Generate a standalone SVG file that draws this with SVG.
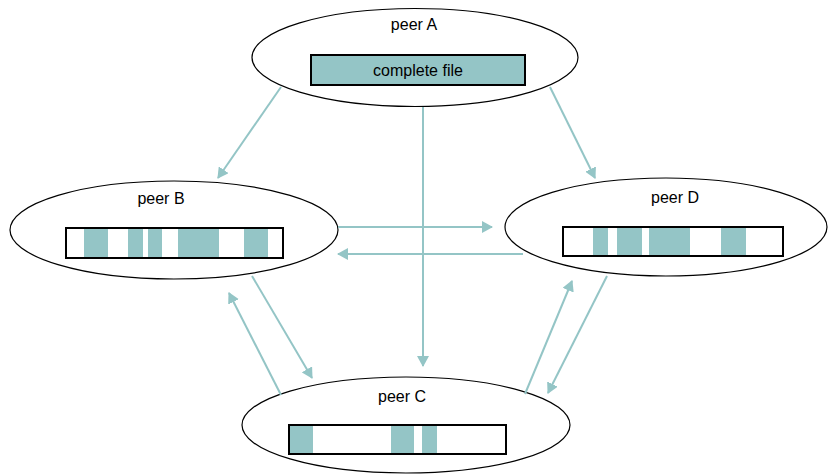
<svg xmlns="http://www.w3.org/2000/svg" width="828" height="475" viewBox="0 0 828 475">
<style>
.peer{fill:#fff;stroke:#000;stroke-width:1.2}
.bar{fill:#fff;stroke:#000;stroke-width:2}
.seg{fill:#94c5c6}
.lbl{font-family:"Liberation Sans",Arial,sans-serif;font-size:16px;fill:#000;text-anchor:middle}
.con{stroke:#94c5c6;stroke-width:2;fill:none;marker-end:url(#ah)}
</style>
<defs>
<marker id="ah" markerWidth="6" markerHeight="6" refX="5" refY="3" orient="auto" markerUnits="strokeWidth">
<path d="M0,0 L5.5,3 L0,6 z" fill="#94c5c6"/>
</marker>
</defs>
<rect width="828" height="475" fill="#fff"/>
<g id="peerA">
<ellipse class="peer" cx="415" cy="57.5" rx="163" ry="49"/>
<text class="lbl" x="414" y="30">peer A</text>
<rect x="311" y="55" width="214" height="30" fill="#94c5c6" stroke="#000" stroke-width="2"/>
<text class="lbl" x="418" y="76">complete file</text>
</g>
<g id="peerB">
<ellipse class="peer" cx="174" cy="230" rx="164" ry="49"/>
<text class="lbl" x="161" y="204">peer B</text>
<rect class="bar" x="66" y="228" width="217" height="30"/>
<rect class="seg" x="84" y="229" width="24" height="28"/>
<rect class="seg" x="128" y="229" width="15" height="28"/>
<rect class="seg" x="148" y="229" width="14" height="28"/>
<rect class="seg" x="178" y="229" width="41" height="28"/>
<rect class="seg" x="244" y="229" width="24" height="28"/>
<rect x="66" y="228" width="217" height="30" fill="none" stroke="#000" stroke-width="2"/>
</g>
<g id="peerD">
<ellipse class="peer" cx="666" cy="227" rx="161" ry="49"/>
<text class="lbl" x="675" y="203">peer D</text>
<rect class="bar" x="563" y="227" width="220" height="29"/>
<rect class="seg" x="593" y="228" width="15" height="27"/>
<rect class="seg" x="617" y="228" width="25" height="27"/>
<rect class="seg" x="649" y="228" width="41" height="27"/>
<rect class="seg" x="721" y="228" width="25" height="27"/>
<rect x="563" y="227" width="220" height="29" fill="none" stroke="#000" stroke-width="2"/>
</g>
<g id="peerC">
<ellipse class="peer" cx="406" cy="425" rx="164" ry="48"/>
<text class="lbl" x="402" y="402">peer C</text>
<rect class="bar" x="289" y="425" width="217" height="29"/>
<rect class="seg" x="290" y="426" width="23" height="27"/>
<rect class="seg" x="391" y="426" width="23" height="27"/>
<rect class="seg" x="422" y="426" width="15" height="27"/>
<rect x="289" y="425" width="217" height="29" fill="none" stroke="#000" stroke-width="2"/>
</g>
<g id="connectors">
<line class="con" x1="281" y1="87" x2="218" y2="178"/>
<line class="con" x1="550" y1="87" x2="595" y2="178"/>
<line class="con" x1="423" y1="107" x2="423" y2="366"/>
<line class="con" x1="338" y1="227" x2="492" y2="227"/>
<line class="con" x1="523" y1="254" x2="338" y2="254"/>
<line class="con" x1="252" y1="276" x2="312" y2="378"/>
<line class="con" x1="281" y1="395" x2="229" y2="293"/>
<line class="con" x1="525" y1="394" x2="572" y2="281"/>
<line class="con" x1="607" y1="276" x2="548" y2="393"/>
</g>
</svg>
